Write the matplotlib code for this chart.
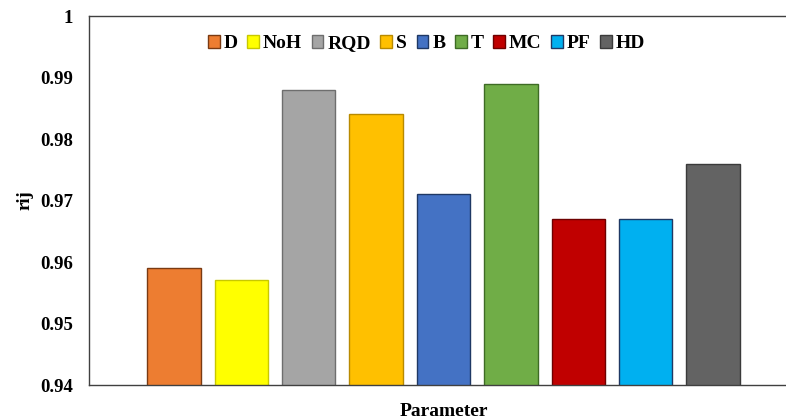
import numpy as np
import matplotlib.pyplot as plt
from matplotlib.patches import Patch

params = ['D', 'NoH', 'RQD', 'S', 'B', 'T', 'MC', 'PF', 'HD']
rij = [0.959, 0.957, 0.988, 0.984, 0.971, 0.989, 0.967, 0.967, 0.976]
colors = ['#ED7D31', '#FFFF00', '#A5A5A5', '#FFC000', '#4472C4',
          '#70AD47', '#C00000', '#00B0F0', '#636363']
edges = ['#7A3A12', '#C8C800', '#6E6E6E', '#B88A00', '#1F3864',
         '#3E6B25', '#6E0000', '#1F3864', '#3A3A3A']

plt.rcParams['font.family'] = ['Liberation Serif', 'DejaVu Serif']
plt.rcParams['font.weight'] = 'bold'

fig = plt.figure(figsize=(7.86, 4.19), dpi=100)
# plot area runs a little past the right edge of the image, as in the original
ax = fig.add_axes([89 / 786, 1 - 385 / 419, (798 - 89) / 786, (385 - 16) / 419])

x = np.arange(len(params))
ax.bar(x, rij, width=0.79, color=colors, edgecolor=edges, linewidth=1.0, zorder=2)

ax.set_ylim(0.94, 1.0)
ax.set_xlim(-1.26, 9.26)
ax.set_yticks(np.arange(0.94, 1.0001, 0.01))
ax.set_yticklabels(['0.94', '0.95', '0.96', '0.97', '0.98', '0.99', '1'])
ax.set_xticks([])
ax.tick_params(axis='y', length=0, labelsize=13.5, pad=11.5)

ax.spines['right'].set_visible(False)
for s in ['left', 'top', 'bottom']:
    ax.spines[s].set_color('#404040')
    ax.spines[s].set_linewidth(1.0)

ax.set_ylabel('rij', fontsize=13.5, fontweight='bold', labelpad=5)
ax.set_xlabel('Parameter', fontsize=14, fontweight='bold', labelpad=13)

handles = [Patch(facecolor=c, edgecolor=e, label=p) for p, c, e in zip(params, colors, edges)]
ax.legend(handles=handles, ncol=9, loc='center', bbox_to_anchor=(0.476, 0.925),
          frameon=False, fontsize=14, handlelength=0.6, handleheight=0.6,
          handletextpad=0.2, columnspacing=0.5, borderpad=0)

fig.savefig('out.png', dpi=100)
